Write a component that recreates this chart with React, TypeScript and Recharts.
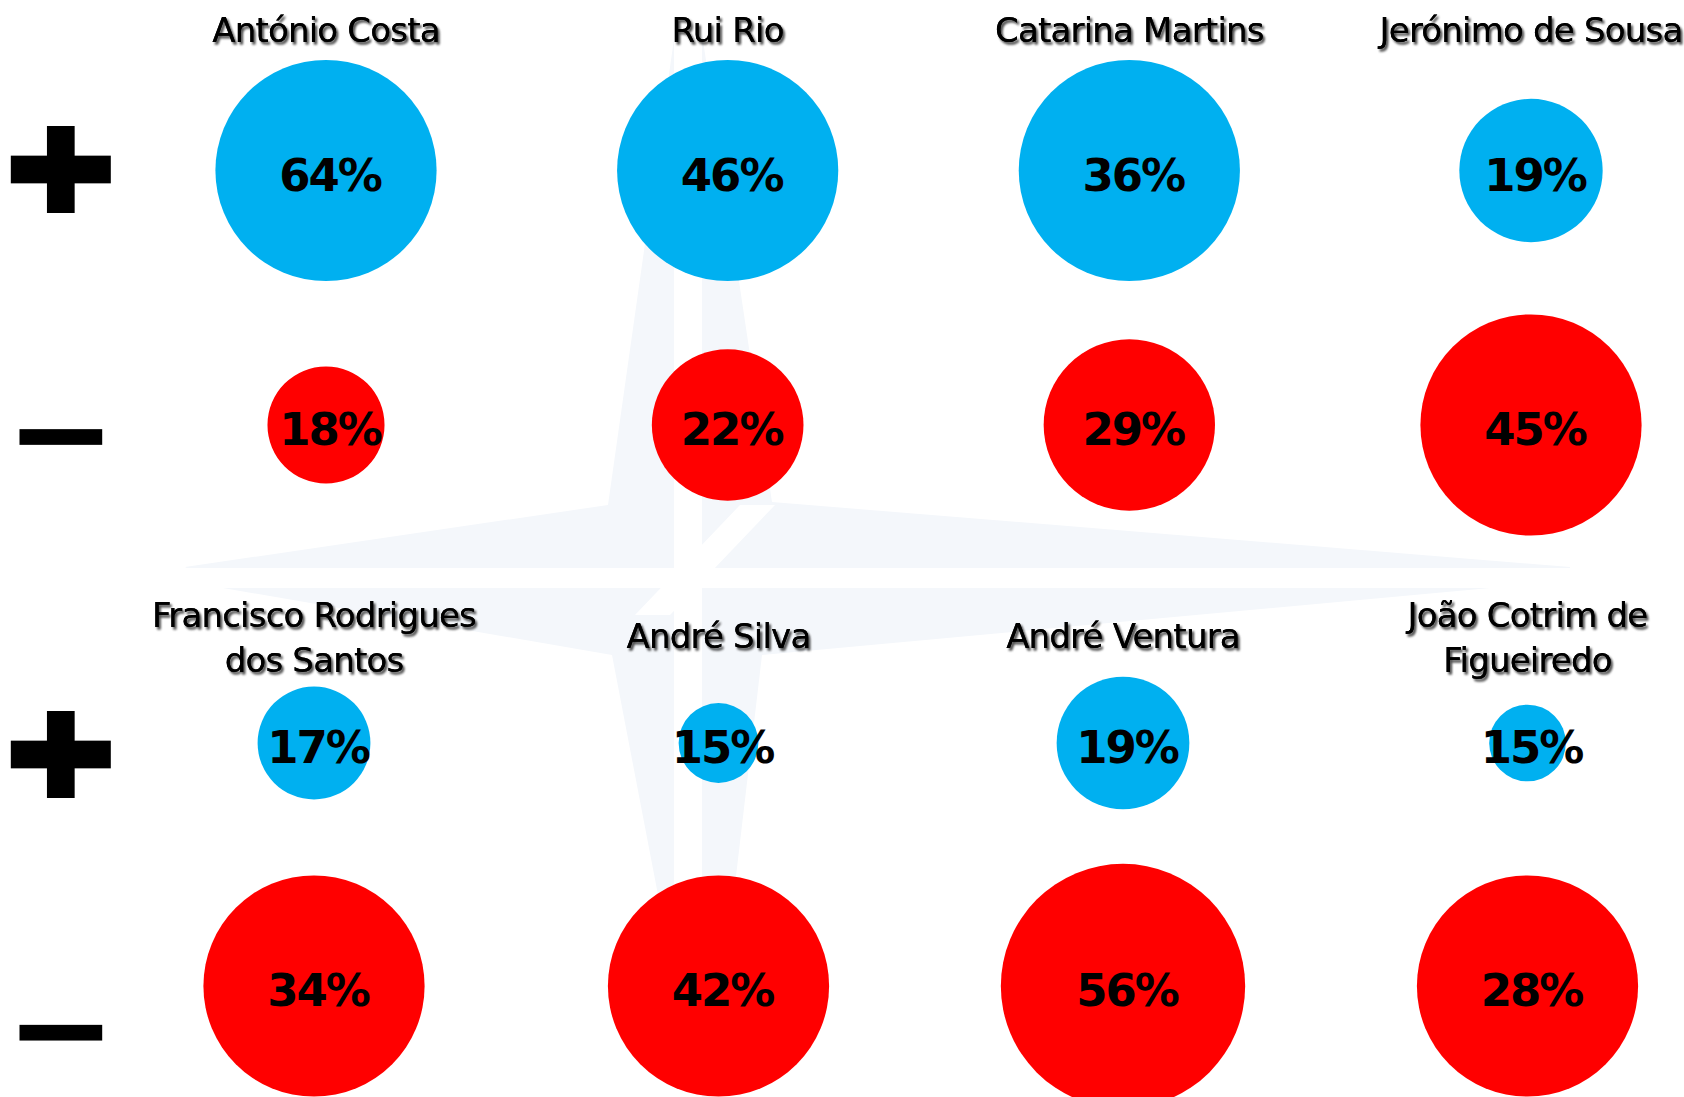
import React from 'react';
import { ScatterChart, Scatter, XAxis, YAxis, ZAxis, LabelList } from 'recharts';

// ---- data ----
const topCandidates = ['António Costa', 'Rui Rio', 'Catarina Martins', 'Jerónimo de Sousa'];
const topPositive = [64, 46, 36, 19];
const topNegative = [18, 22, 29, 45];
// relative bubble areas as drawn in the picture
const topPositiveBubble = [100, 100, 100, 42];
const topNegativeBubble = [28, 47, 60, 100];

const bottomCandidates = [
  'Francisco Rodrigues dos Santos',
  'André Silva',
  'André Ventura',
  'João Cotrim de Figueiredo',
];
const bottomPositive = [17, 15, 19, 15];
const bottomNegative = [34, 42, 56, 28];
const bottomPositiveBubble = [26, 13, 36, 12];
const bottomNegativeBubble = [100, 100, 122, 100];

const rowSigns = ['+', '−'];

// ---- styling ----
const BLUE = '#00B0F0';
const RED = '#FF0000';
const MAX_R = 110.6;
const bubbleDomain: [number, number] = [0, 125];
const bubbleRange: [number, number] = [0, Math.PI * MAX_R * MAX_R * 1.25];
const FONT = "'DejaVu Sans', Verdana, sans-serif";

type Row = { name: string; row: number; value: number; bubble: number };
const build = (names: string[], values: number[], bubbles: number[], row: number): Row[] =>
  names.map((name, i) => ({ name, row, value: values[i], bubble: bubbles[i] }));

const wrapName = (s: string, max = 19) => {
  const words = s.split(' ');
  const lines: string[] = [];
  let cur = '';
  for (const w of words) {
    const t = cur ? cur + ' ' + w : w;
    if (t.length > max && cur) {
      lines.push(cur);
      cur = w;
    } else cur = t;
  }
  if (cur) lines.push(cur);
  return lines;
};

function NameTick(props: any) {
  const { x, payload, single, double } = props;
  const lines = wrapName(String(payload.value));
  const ys = lines.length === 1 ? [single] : double;
  return (
    <g filter="url(#txtShadow)">
      {lines.map((l: string, i: number) => (
        <text
          key={i}
          x={x}
          y={ys[i]}
          textAnchor="middle"
          fontFamily={FONT}
          fontSize={34}
          letterSpacing={-0.8}
          fill="#000"
        >
          {l}
        </text>
      ))}
    </g>
  );
}

function SignTick(props: any) {
  const { y, payload, offsets } = props;
  const v = Number(payload.value);
  const cx = 60.8;
  const cy = y + offsets[v];
  const sign = rowSigns[v];
  if (sign === '+') {
    return (
      <g>
        <rect x={cx - 50} y={cy - 13.85} width={100} height={27.7} fill="#000" />
        <rect x={cx - 13.85} y={cy - 43.5} width={27.7} height={87} fill="#000" />
      </g>
    );
  }
  return <rect x={cx - 41.3} y={cy - 7.85} width={82.7} height={15.7} fill="#000" />;
}

function PctLabel(props: any) {
  const vb = props.viewBox ?? props;
  const w = vb.width ?? 0;
  const h = vb.height ?? 0;
  const cx = vb.x + w / 2;
  const cy = vb.y + h / 2;
  return (
    <text
      x={cx + 4}
      y={cy + 20}
      textAnchor="middle"
      fontFamily={FONT}
      fontWeight="bold"
      fontSize={45}
      letterSpacing={-2}
      fill="#000"
    >
      {`${props.value}%`}
    </text>
  );
}

function Panel(props: any) {
  const { pos, neg, height, padX, padY, single, double, iconOffsets } = props;
  return (
    <ScatterChart width={1684} height={height} margin={{ top: 0, right: 0, bottom: 0, left: 0 }}>
      <XAxis
        type="category"
        dataKey="name"
        orientation="top"
        scale="point"
        allowDuplicatedCategory={false}
        padding={{ left: padX[0], right: padX[1] }}
        height={1}
        axisLine={false}
        tickLine={false}
        interval={0}
        tick={(p: any) => <NameTick {...p} single={single} double={double} />}
      />
      <YAxis
        type="number"
        dataKey="row"
        domain={[0, 1]}
        ticks={[0, 1]}
        reversed
        width={112}
        padding={{ top: padY[0], bottom: padY[1] }}
        axisLine={false}
        tickLine={false}
        tick={(p: any) => <SignTick {...p} offsets={iconOffsets} />}
      />
      <ZAxis type="number" dataKey="bubble" domain={bubbleDomain} range={bubbleRange} />
      <Scatter data={pos} fill={BLUE} isAnimationActive={false}>
        <LabelList dataKey="value" content={PctLabel} />
      </Scatter>
      <Scatter data={neg} fill={RED} isAnimationActive={false}>
        <LabelList dataKey="value" content={PctLabel} />
      </Scatter>
    </ScatterChart>
  );
}

function Backdrop() {
  const star = [
    [688, -60],
    [772, 502],
    [1570, 567],
    [1570, 572],
    [1490, 588],
    [762, 655],
    [705, 1140],
    [612, 655],
    [223, 588],
    [185, 567],
    [608, 505],
  ]
    .map((p) => p.join(','))
    .join(' ');
  return (
    <svg width={1684} height={1097} style={{ position: 'absolute', left: 0, top: 0 }}>
      <defs>
        <filter id="txtShadow" x="-10%" y="-40%" width="130%" height="190%">
          <feDropShadow dx="2" dy="2.5" stdDeviation="1.2" floodColor="#000" floodOpacity="0.45" />
        </filter>
      </defs>
      <polygon points={star} fill="#f4f7fb" />
      <rect x={0} y={568} width={1684} height={20} fill="#fff" />
      <rect x={674} y={0} width={28} height={1097} fill="#fff" />
      <polygon points="740,505 775,505 670,615 635,615" fill="#fff" />
    </svg>
  );
}

export default function App() {
  const topPos = build(topCandidates, topPositive, topPositiveBubble, 0);
  const topNeg = build(topCandidates, topNegative, topNegativeBubble, 1);
  const botPos = build(bottomCandidates, bottomPositive, bottomPositiveBubble, 0);
  const botNeg = build(bottomCandidates, bottomNegative, bottomNegativeBubble, 1);
  return (
    <div
      style={{
        position: 'absolute',
        left: 0,
        top: 0,
        width: 1684,
        height: 1097,
        background: '#fff',
        overflow: 'hidden',
      }}
    >
      <Backdrop />
      <div style={{ position: 'absolute', left: 0, top: 0 }}>
        <Panel
          pos={topPos}
          neg={topNeg}
          height={548}
          padX={[214, 153]}
          padY={[169.5, 123]}
          single={41.5}
          double={[41.5, 86]}
          iconOffsets={[-1, 12]}
        />
      </div>
      <div style={{ position: 'absolute', left: 0, top: 548 }}>
        <Panel
          pos={botPos}
          neg={botNeg}
          height={549}
          padX={[202, 156.5]}
          padY={[194, 111]}
          single={100}
          double={[79, 124]}
          iconOffsets={[11.5, 46.7]}
        />
      </div>
    </div>
  );
}
